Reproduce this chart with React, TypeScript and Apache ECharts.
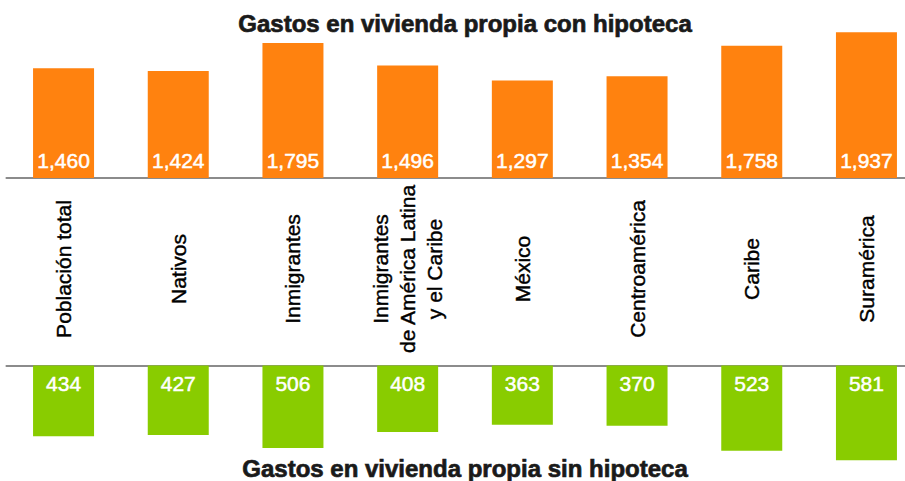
import React, { useEffect, useRef } from "react";
import * as echarts from "echarts";

const categories = [
  "Población total",
  "Nativos",
  "Inmigrantes",
  "Inmigrantes\nde América Latina\ny el Caribe",
  "México",
  "Centroamérica",
  "Caribe",
  "Suramérica",
];
const conHipoteca = [1460, 1424, 1795, 1496, 1297, 1354, 1758, 1937];
const sinHipoteca = [434, 427, 506, 408, 363, 370, 523, 581];
const titleTop = "Gastos en vivienda propia con hipoteca";
const titleBottom = "Gastos en vivienda propia sin hipoteca";

const ORANGE = "#FF820F";
const GREEN = "#89CC00";
const FONT = '"Liberation Sans", Arial, Helvetica, sans-serif';

const fmt = (v: number) => v.toLocaleString("en-US");

export default function App() {
  const ref = useRef<HTMLDivElement>(null);
  useEffect(() => {
    document.body.style.margin = "0";
    if (!ref.current) return;
    const chart = echarts.init(ref.current, undefined, { renderer: "svg" });
    const gridLeft = 6.2;
    const gridWidth = 917.6;
    chart.setOption({
      animation: false,
      backgroundColor: "#ffffff",
      textStyle: { fontFamily: FONT },
      grid: [
        { left: gridLeft, width: gridWidth, top: 27.6, height: 150.4 },
        { left: gridLeft, width: gridWidth, top: 365.5, height: 97.8 },
      ],
      xAxis: [
        {
          gridIndex: 0,
          type: "category",
          data: categories,
          axisTick: { show: false },
          axisLine: { lineStyle: { color: "#666", width: 1.5 } },
          axisLabel: {
            interval: 0,
            rotate: 90,
            align: "center",
            verticalAlign: "middle",
            margin: 91,
            fontSize: 21,
            lineHeight: 27,
            color: "#000",
            textBorderColor: "#000",
            textBorderWidth: 0.4,
            fontFamily: FONT,
          },
        },
        {
          gridIndex: 1,
          type: "category",
          data: categories,
          position: "top",
          axisTick: { show: false },
          axisLabel: { show: false },
          axisLine: { lineStyle: { color: "#666", width: 1.5 } },
        },
      ],
      yAxis: [
        { gridIndex: 0, type: "value", min: 0, max: 2000, show: false },
        { gridIndex: 1, type: "value", min: 0, max: 600, inverse: true, show: false },
      ],
      series: [
        {
          type: "bar",
          xAxisIndex: 0,
          yAxisIndex: 0,
          data: conHipoteca,
          barWidth: 61,
          itemStyle: { color: ORANGE },
          label: {
            show: true,
            position: "insideBottom",
            distance: 7,
            color: "#fff",
            textBorderColor: "#fff",
            textBorderWidth: 0.5,
            fontSize: 21,
            fontFamily: FONT,
            formatter: (p: any) => fmt(p.value),
          },
        },
        {
          type: "bar",
          xAxisIndex: 1,
          yAxisIndex: 1,
          data: sinHipoteca,
          barWidth: 61,
          itemStyle: { color: GREEN },
          label: {
            show: true,
            position: "insideTop",
            distance: 7,
            color: "#fff",
            textBorderColor: "#fff",
            textBorderWidth: 0.5,
            fontSize: 21,
            fontFamily: FONT,
            formatter: (p: any) => fmt(p.value),
          },
        },
      ],
      graphic: [
        {
          type: "text",
          x: 465,
          y: 23,
          style: {
            text: titleTop,
            fill: "#1a1a1a",
            stroke: "#1a1a1a",
            lineWidth: 0.7,
            fontSize: 24,
            fontWeight: "bold",
            fontFamily: FONT,
            align: "center",
            verticalAlign: "middle",
          },
        },
        {
          type: "text",
          x: 465,
          y: 468.5,
          style: {
            text: titleBottom,
            fill: "#1a1a1a",
            stroke: "#1a1a1a",
            lineWidth: 0.7,
            fontSize: 24,
            fontWeight: "bold",
            fontFamily: FONT,
            align: "center",
            verticalAlign: "middle",
          },
        },
      ],
    });
    return () => chart.dispose();
  }, []);
  return (
    <div style={{ width: 905, height: 481, overflow: "hidden", position: "relative" }}>
      <div ref={ref} style={{ width: 930, height: 481 }} />
    </div>
  );
}
